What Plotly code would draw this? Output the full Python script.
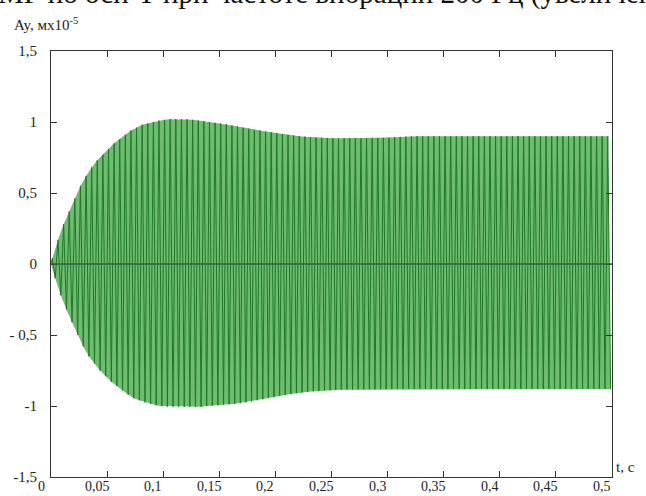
import numpy as np
import plotly.graph_objects as go

# Vibration frequency and half period
freq_hz = 200
half_period = 1.0 / freq_hz / 2

# Positive peak amplitudes per cycle (x1e-5 m)
pos_peaks = [
    0.04, 0.17, 0.28, 0.37, 0.46, 0.55, 0.62, 0.68, 0.73, 0.77,
    0.81, 0.85, 0.88, 0.91, 0.94, 0.96, 0.98, 0.99, 1.00, 1.01,
    1.015, 1.02, 1.02, 1.02, 1.02, 1.015, 1.01, 1.005, 1.00, 0.995,
    0.99, 0.985, 0.975, 0.968, 0.96, 0.953, 0.945, 0.94, 0.933, 0.927,
    0.921, 0.915, 0.91, 0.905, 0.90, 0.897, 0.894, 0.891, 0.889, 0.887,
    0.886, 0.885, 0.885, 0.885, 0.885, 0.885, 0.885, 0.886, 0.887, 0.888,
    0.89, 0.892, 0.895, 0.897, 0.90, 0.90, 0.90, 0.90, 0.90, 0.90,
    0.90, 0.90, 0.90, 0.90, 0.90, 0.90, 0.90, 0.90, 0.90, 0.90,
    0.90, 0.90, 0.90, 0.90, 0.90, 0.90, 0.90, 0.90, 0.90, 0.90,
    0.90, 0.90, 0.90, 0.90, 0.90, 0.90, 0.90, 0.90, 0.90, 0.90,
]
# Negative peak amplitudes per cycle (x1e-5 m)
neg_peaks = [
    -0.10, -0.22, -0.32, -0.41, -0.50, -0.58, -0.65, -0.70, -0.75, -0.79,
    -0.83, -0.86, -0.89, -0.92, -0.945, -0.96, -0.975, -0.985, -0.995, -1.00,
    -1.005, -1.005, -1.005, -1.005, -1.005, -1.005, -1.005, -1.00, -0.998, -0.995,
    -0.99, -0.988, -0.985, -0.98, -0.975, -0.968, -0.96, -0.953, -0.945, -0.938,
    -0.93, -0.923, -0.916, -0.91, -0.905, -0.90, -0.897, -0.894, -0.891, -0.889,
    -0.887, -0.886, -0.885, -0.885, -0.884, -0.884, -0.883, -0.883, -0.882, -0.882,
    -0.88, -0.88, -0.88, -0.88, -0.88, -0.88, -0.88, -0.88, -0.88, -0.88,
    -0.88, -0.88, -0.88, -0.88, -0.88, -0.88, -0.88, -0.88, -0.88, -0.88,
    -0.88, -0.88, -0.88, -0.88, -0.88, -0.88, -0.88, -0.88, -0.88, -0.88,
    -0.88, -0.88, -0.88, -0.88, -0.88, -0.88, -0.88, -0.88, -0.88, -0.88,
]

x_tick_vals = [0, 0.05, 0.1, 0.15, 0.2, 0.25, 0.3, 0.35, 0.4, 0.45, 0.5]
x_tick_text = ["0", "0,05", "0,1", "0,15", "0,2", "0,25", "0,3", "0,35", "0,4", "0,45", "0,5"]
y_tick_vals = [1.5, 1, 0.5, 0, -0.5, -1, -1.5]
y_tick_text = ["1,5", "1", "0,5", "0", "- 0,5", "-1", "-1,5"]

y_title = "Ay, мх10<sup>-5</sup>"
x_title = "t, c"
caption = "МГ по оси Y при частоте вибрации 200 Гц (увеличение)"

# build signal: zigzag through successive peaks
n = len(pos_peaks)
t_pos = [(4 * k + 1) * half_period / 2 for k in range(n)]
t_neg = [(4 * k + 3) * half_period / 2 for k in range(n)]
t_sig = [0.0]
y_sig = [0.0]
for k in range(n):
    t_sig += [t_pos[k], t_neg[k]]
    y_sig += [pos_peaks[k], neg_peaks[k]]

env_x = [0.0] + t_pos + t_neg[::-1] + [0.0]
env_y = [0.0] + pos_peaks + neg_peaks[::-1] + [0.0]

FONT = "Liberation Serif, Times New Roman, serif"

fig = go.Figure()
fig.add_trace(go.Scatter(x=env_x, y=env_y, mode="lines", fill="toself",
                         fillcolor="rgb(110,188,110)", line=dict(width=0),
                         hoverinfo="skip", showlegend=False))
fig.add_trace(go.Scatter(x=t_sig, y=y_sig, mode="lines",
                         line=dict(color="rgb(30,120,40)", width=1),
                         showlegend=False))

fig.update_layout(
    width=646, height=496,
    margin=dict(l=51, r=34, t=51, b=19),
    paper_bgcolor="white", plot_bgcolor="white",
    font=dict(family=FONT, size=15, color="#222"),
    showlegend=False,
)
fig.update_xaxes(
    range=[0, 0.5], tickvals=x_tick_vals, showticklabels=False,
    showline=True, linecolor="#333", linewidth=1, mirror="ticks",
    ticks="inside", ticklen=6, tickcolor="#333", showgrid=False, zeroline=False,
    automargin=False,
)
fig.update_yaxes(
    range=[-1.5, 1.5], tickvals=y_tick_vals, ticktext=y_tick_text,
    showline=True, linecolor="#333", linewidth=1, mirror="ticks",
    ticks="inside", ticklen=6, tickcolor="#333", showgrid=False,
    zeroline=False, ticklabelstandoff=10, automargin=False,
)
# x tick labels placed just under the axis, slightly left of each tick
for v, txt in zip(x_tick_vals, x_tick_text):
    fig.add_annotation(text=txt, x=v, xref="x", yref="paper", y=(477 - 487) / 426,
                       xanchor="center", yanchor="middle", xshift=-10,
                       showarrow=False, borderpad=0,
                       font=dict(family=FONT, size=14, color="#222"))
# zero reference line drawn over the signal
fig.add_hline(y=0, line=dict(color="rgb(40,100,75)", width=1.5), layer="above")

fig.add_annotation(text=y_title, xref="paper", yref="paper",
                   x=(12 - 51) / 561, y=(477 - 24) / 426, xanchor="left", yanchor="middle",
                   showarrow=False, font=dict(family=FONT, size=15, color="#222"))
fig.add_annotation(text=x_title, xref="paper", yref="paper",
                   x=(614 - 51) / 561, y=(477 - 467) / 426, xanchor="left", yanchor="middle",
                   showarrow=False, font=dict(family=FONT, size=15, color="#222"))
fig.add_annotation(text=caption, xref="paper", yref="paper",
                   x=(-4 - 51) / 561, y=(477 + 6) / 426, xanchor="left", yanchor="middle",
                   showarrow=False, font=dict(family=FONT, size=29, color="#111"))

fig.write_html("out.html", config={"displayModeBar": False},
               post_script="document.body.style.margin='0';document.body.style.overflow='hidden';")
